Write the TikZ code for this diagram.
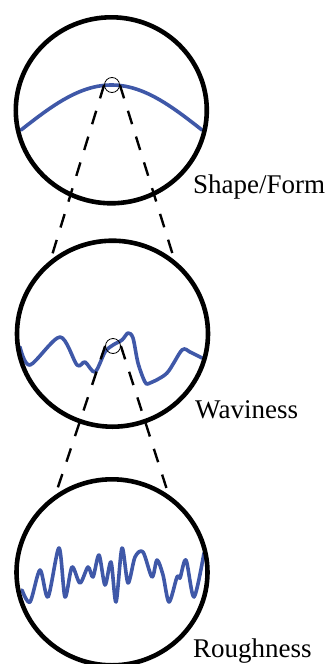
\documentclass[tikz,border=0pt]{standalone}
\usepackage{fontspec}
\setmainfont{Liberation Serif}
\usepackage{xcolor}
\usetikzlibrary{shapes.geometric}
\definecolor{profBlue}{HTML}{3F58A8}
\tikzset{
  lens/.style={draw, ellipse, line width=4.6pt, minimum width=191pt, minimum height=186pt, inner sep=0pt},
  spot/.style={draw, circle, line width=0.8pt, minimum size=15pt, inner sep=0pt},
  zoomline/.style={line width=2.4pt, dash pattern=on 14pt off 13pt},
  profile/.style={draw=profBlue, line width=3.6pt, line join=round, line cap=round},
  lbl/.style={font=\fontsize{27}{30}\selectfont, anchor=base west, inner sep=0pt},
}

\begin{document}
\begin{tikzpicture}[x=1pt, y=-1pt]
  \useasboundingbox (0,0) rectangle (324,664);
  % profiles
  \draw[profile] plot[domain=21:202, samples=60] (\x, {130-45*sin((\x-21)/181*180)});
  \draw[profile] plot[smooth, tension=0.5] coordinates {(20,347) (30,365) (60,337) (77,365) (85,362)
    (95,372) (105,352) (113,345) (122,340) (128,333) (133,338) (138,363) (145,382) (150,383)
    (167,373) (182,350) (190,352) (202,358)};
  \draw[profile] plot[smooth, tension=0.5] coordinates {(22,590) (30,602) (40,570) (48,597) (59,548)
    (65,597) (72,567) (80,583) (88,567) (93,577) (99,555) (105,585) (111,562) (116,602) (122,548)
    (128,583) (135,557) (143,552) (152,577) (157,560) (163,575) (169,602) (177,577) (180,578)
    (186,560) (194,597) (204,553)};
  % lenses
  \node[lens] (form) at (111.3,110.3) {};
  \node[lens] (wave) at (112.5,333.7) {};
  \node[lens] (rough) at (112,572.3) {};
  \node[spot] (formspot) at (112,85) {};
  \node[spot] (wavespot) at (113,346) {};
  \node[lbl] (formlbl) at (193,193) {Shape/Form};
  \node[lbl] (wavelbl) at (195,418) {Waviness};
  \node[lbl] (roughlbl) at (193,657) {Roughness};
  \draw[zoomline] (formspot.west) -- (wave.130);
  \draw[zoomline] (formspot.east) -- (wave.50);
  \draw[zoomline] (wavespot.west) -- (rough.126);
  \draw[zoomline] (wavespot.east) -- (rough.54);
\end{tikzpicture}
\end{document}
